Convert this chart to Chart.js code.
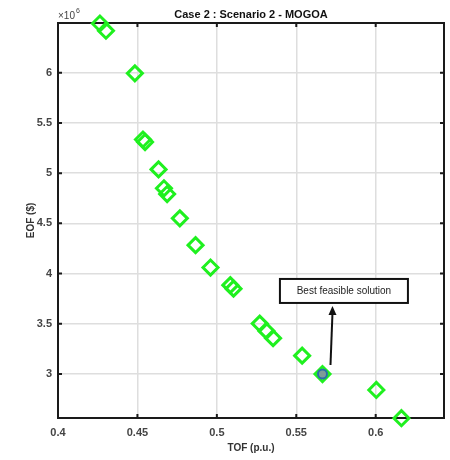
<!DOCTYPE html>
<html>
<head>
<meta charset="utf-8">
<script src="https://cdn.jsdelivr.net/npm/chart.js@4.4.0/dist/chart.umd.min.js"></script>
<style>
  html, body { margin: 0; padding: 0; background: #fff; }
</style>
</head>
<body>
<canvas id="wykres" width="450" height="460"></canvas>
<script>
// Pareto front points (TOF in p.u., EOF in units of 10^6 $)
const tof = [0.4264, 0.4302, 0.4484, 0.4535, 0.4548, 0.4633, 0.4667, 0.4687, 0.4767, 0.4866,
             0.4960, 0.5085, 0.5105, 0.5270, 0.5312, 0.5354, 0.5537, 0.5665, 0.6004, 0.6162];
const eof = [6.49, 6.418, 5.994, 5.335, 5.31, 5.037, 4.849, 4.792, 4.550, 4.283,
             4.06, 3.885, 3.85, 3.502, 3.429, 3.357, 3.183, 3.0, 2.841, 2.56];

// chosen compromise solution
const bestTof = [0.5665];
const bestEof = [3.0];

const xTicks = [0.4, 0.45, 0.5, 0.55, 0.6];
const xTickLabels = ['0.4', '0.45', '0.5', '0.55', '0.6'];
const yTicks = [3, 3.5, 4, 4.5, 5, 5.5, 6];
const yTickLabels = ['3', '3.5', '4', '4.5', '5', '5.5', '6'];

const tytul = 'Case 2 : Scenario 2 - MOGOA';
const opisX = 'TOF (p.u.)';
const opisY = 'EOF ($)';
const wykladnik = '6';
const notatka = 'Best feasible solution';

const FONT = '"Liberation Sans", Arial, sans-serif';

// box, inward ticks, labels and the callout are drawn by hand
const dodatki = {
  id: 'dodatki',
  beforeDatasetsDraw(chart) {
    const { ctx, chartArea: a, scales: { x, y } } = chart;
    ctx.save();
    ctx.strokeStyle = '#1a1a1a';
    ctx.lineWidth = 2;
    ctx.strokeRect(a.left, a.top, a.right - a.left, a.bottom - a.top);

    ctx.beginPath();
    xTicks.forEach(v => {
      const px = x.getPixelForValue(v);
      ctx.moveTo(px, a.bottom); ctx.lineTo(px, a.bottom - 4);
      ctx.moveTo(px, a.top); ctx.lineTo(px, a.top + 4);
    });
    yTicks.forEach(v => {
      const py = y.getPixelForValue(v);
      ctx.moveTo(a.left, py); ctx.lineTo(a.left + 4, py);
      ctx.moveTo(a.right, py); ctx.lineTo(a.right - 4, py);
    });
    ctx.stroke();
    ctx.restore();
  },
  afterDraw(chart) {
    const { ctx, chartArea: a, scales: { x, y } } = chart;
    const srodekX = (a.left + a.right) / 2;
    ctx.save();

    // title
    ctx.fillStyle = '#111';
    ctx.font = `bold 11px ${FONT}`;
    ctx.textAlign = 'center';
    ctx.textBaseline = 'middle';
    ctx.fillText(tytul, srodekX, 15);

    // x10^6 multiplier
    ctx.fillStyle = '#444';
    ctx.textAlign = 'left';
    ctx.textBaseline = 'alphabetic';
    ctx.font = `10px ${FONT}`;
    ctx.fillText('\u00d710', a.left, 19);
    const w = ctx.measureText('\u00d710').width;
    ctx.font = `7px ${FONT}`;
    ctx.fillText(wykladnik, a.left + w + 1, 13);

    // axis titles
    ctx.fillStyle = '#333';
    ctx.font = `bold 10px ${FONT}`;
    ctx.textAlign = 'center';
    ctx.textBaseline = 'middle';
    ctx.fillText(opisX, srodekX, 448);
    ctx.translate(31, (a.top + a.bottom) / 2);
    ctx.rotate(-Math.PI / 2);
    ctx.fillText(opisY, 0, 0);
    ctx.setTransform(1, 0, 0, 1, 0, 0);

    // callout box
    const bx = x.getPixelForValue(0.58);
    const by = y.getPixelForValue(3.827);
    const bw = 128, bh = 24;
    ctx.fillStyle = '#fff';
    ctx.fillRect(bx - bw / 2, by - bh / 2, bw, bh);
    ctx.strokeStyle = '#111';
    ctx.lineWidth = 2;
    ctx.strokeRect(bx - bw / 2, by - bh / 2, bw, bh);
    ctx.fillStyle = '#222';
    ctx.font = `10px ${FONT}`;
    ctx.fillText(notatka, bx, by);

    // arrow from the best point up to the box
    const px = x.getPixelForValue(bestTof[0]);
    const py = y.getPixelForValue(bestEof[0]);
    const x0 = px + 8, y0 = py - 9;
    const x1 = px + 10, y1 = by + bh / 2 + 3;
    ctx.strokeStyle = '#111';
    ctx.lineWidth = 2;
    ctx.beginPath();
    ctx.moveTo(x0, y0);
    ctx.lineTo(x1, y1 + 7);
    ctx.stroke();
    ctx.fillStyle = '#111';
    ctx.beginPath();
    ctx.moveTo(x1, y1);
    ctx.lineTo(x1 - 4, y1 + 9);
    ctx.lineTo(x1 + 4, y1 + 9);
    ctx.closePath();
    ctx.fill();

    ctx.restore();
  }
};

const ctx = document.getElementById('wykres').getContext('2d');

new Chart(ctx, {
  type: 'scatter',
  data: {
    datasets: [
      {
        label: 'Best',
        data: bestTof.map((v, i) => ({ x: v, y: bestEof[i] })),
        pointStyle: 'circle',
        pointRadius: 4.5,
        borderColor: '#2a6ea8',
        backgroundColor: '#7f9a98',
        borderWidth: 2,
        clip: false
      },
      {
        label: 'Pareto',
        data: tof.map((v, i) => ({ x: v, y: eof[i] })),
        pointStyle: 'rectRot',
        pointRadius: 7.5,
        borderColor: '#1ff01f',
        backgroundColor: 'rgba(0,0,0,0)',
        borderWidth: 3,
        clip: false
      }
    ]
  },
  plugins: [dodatki],
  options: {
    responsive: false,
    animation: false,
    devicePixelRatio: 1,
    layout: { autoPadding: false, padding: { top: 23, right: 6, left: 0, bottom: 0 } },
    plugins: {
      legend: { display: false },
      tooltip: { enabled: false },
      title: { display: false }
    },
    scales: {
      x: {
        type: 'linear',
        min: 0.4,
        max: 0.643,
        afterFit: s => { s.height = 42; },
        afterBuildTicks: s => { s.ticks = xTicks.map(v => ({ value: v })); },
        grid: { color: '#dedede', lineWidth: 1.5, drawTicks: false },
        border: { display: false },
        ticks: {
          padding: 8,
          color: '#444',
          font: { family: FONT, size: 11, weight: 'bold' },
          maxRotation: 0,
          callback: (v, i) => xTickLabels[i]
        }
      },
      y: {
        type: 'linear',
        min: 2.562,
        max: 6.495,
        afterFit: s => { s.width = 58; },
        afterBuildTicks: s => { s.ticks = yTicks.map(v => ({ value: v })); },
        grid: { color: '#dedede', lineWidth: 1.5, drawTicks: false },
        border: { display: false },
        ticks: {
          padding: 6,
          color: '#444',
          font: { family: FONT, size: 11, weight: 'bold' },
          callback: (v, i) => yTickLabels[i]
        }
      }
    }
  }
});
</script>
</body>
</html>
